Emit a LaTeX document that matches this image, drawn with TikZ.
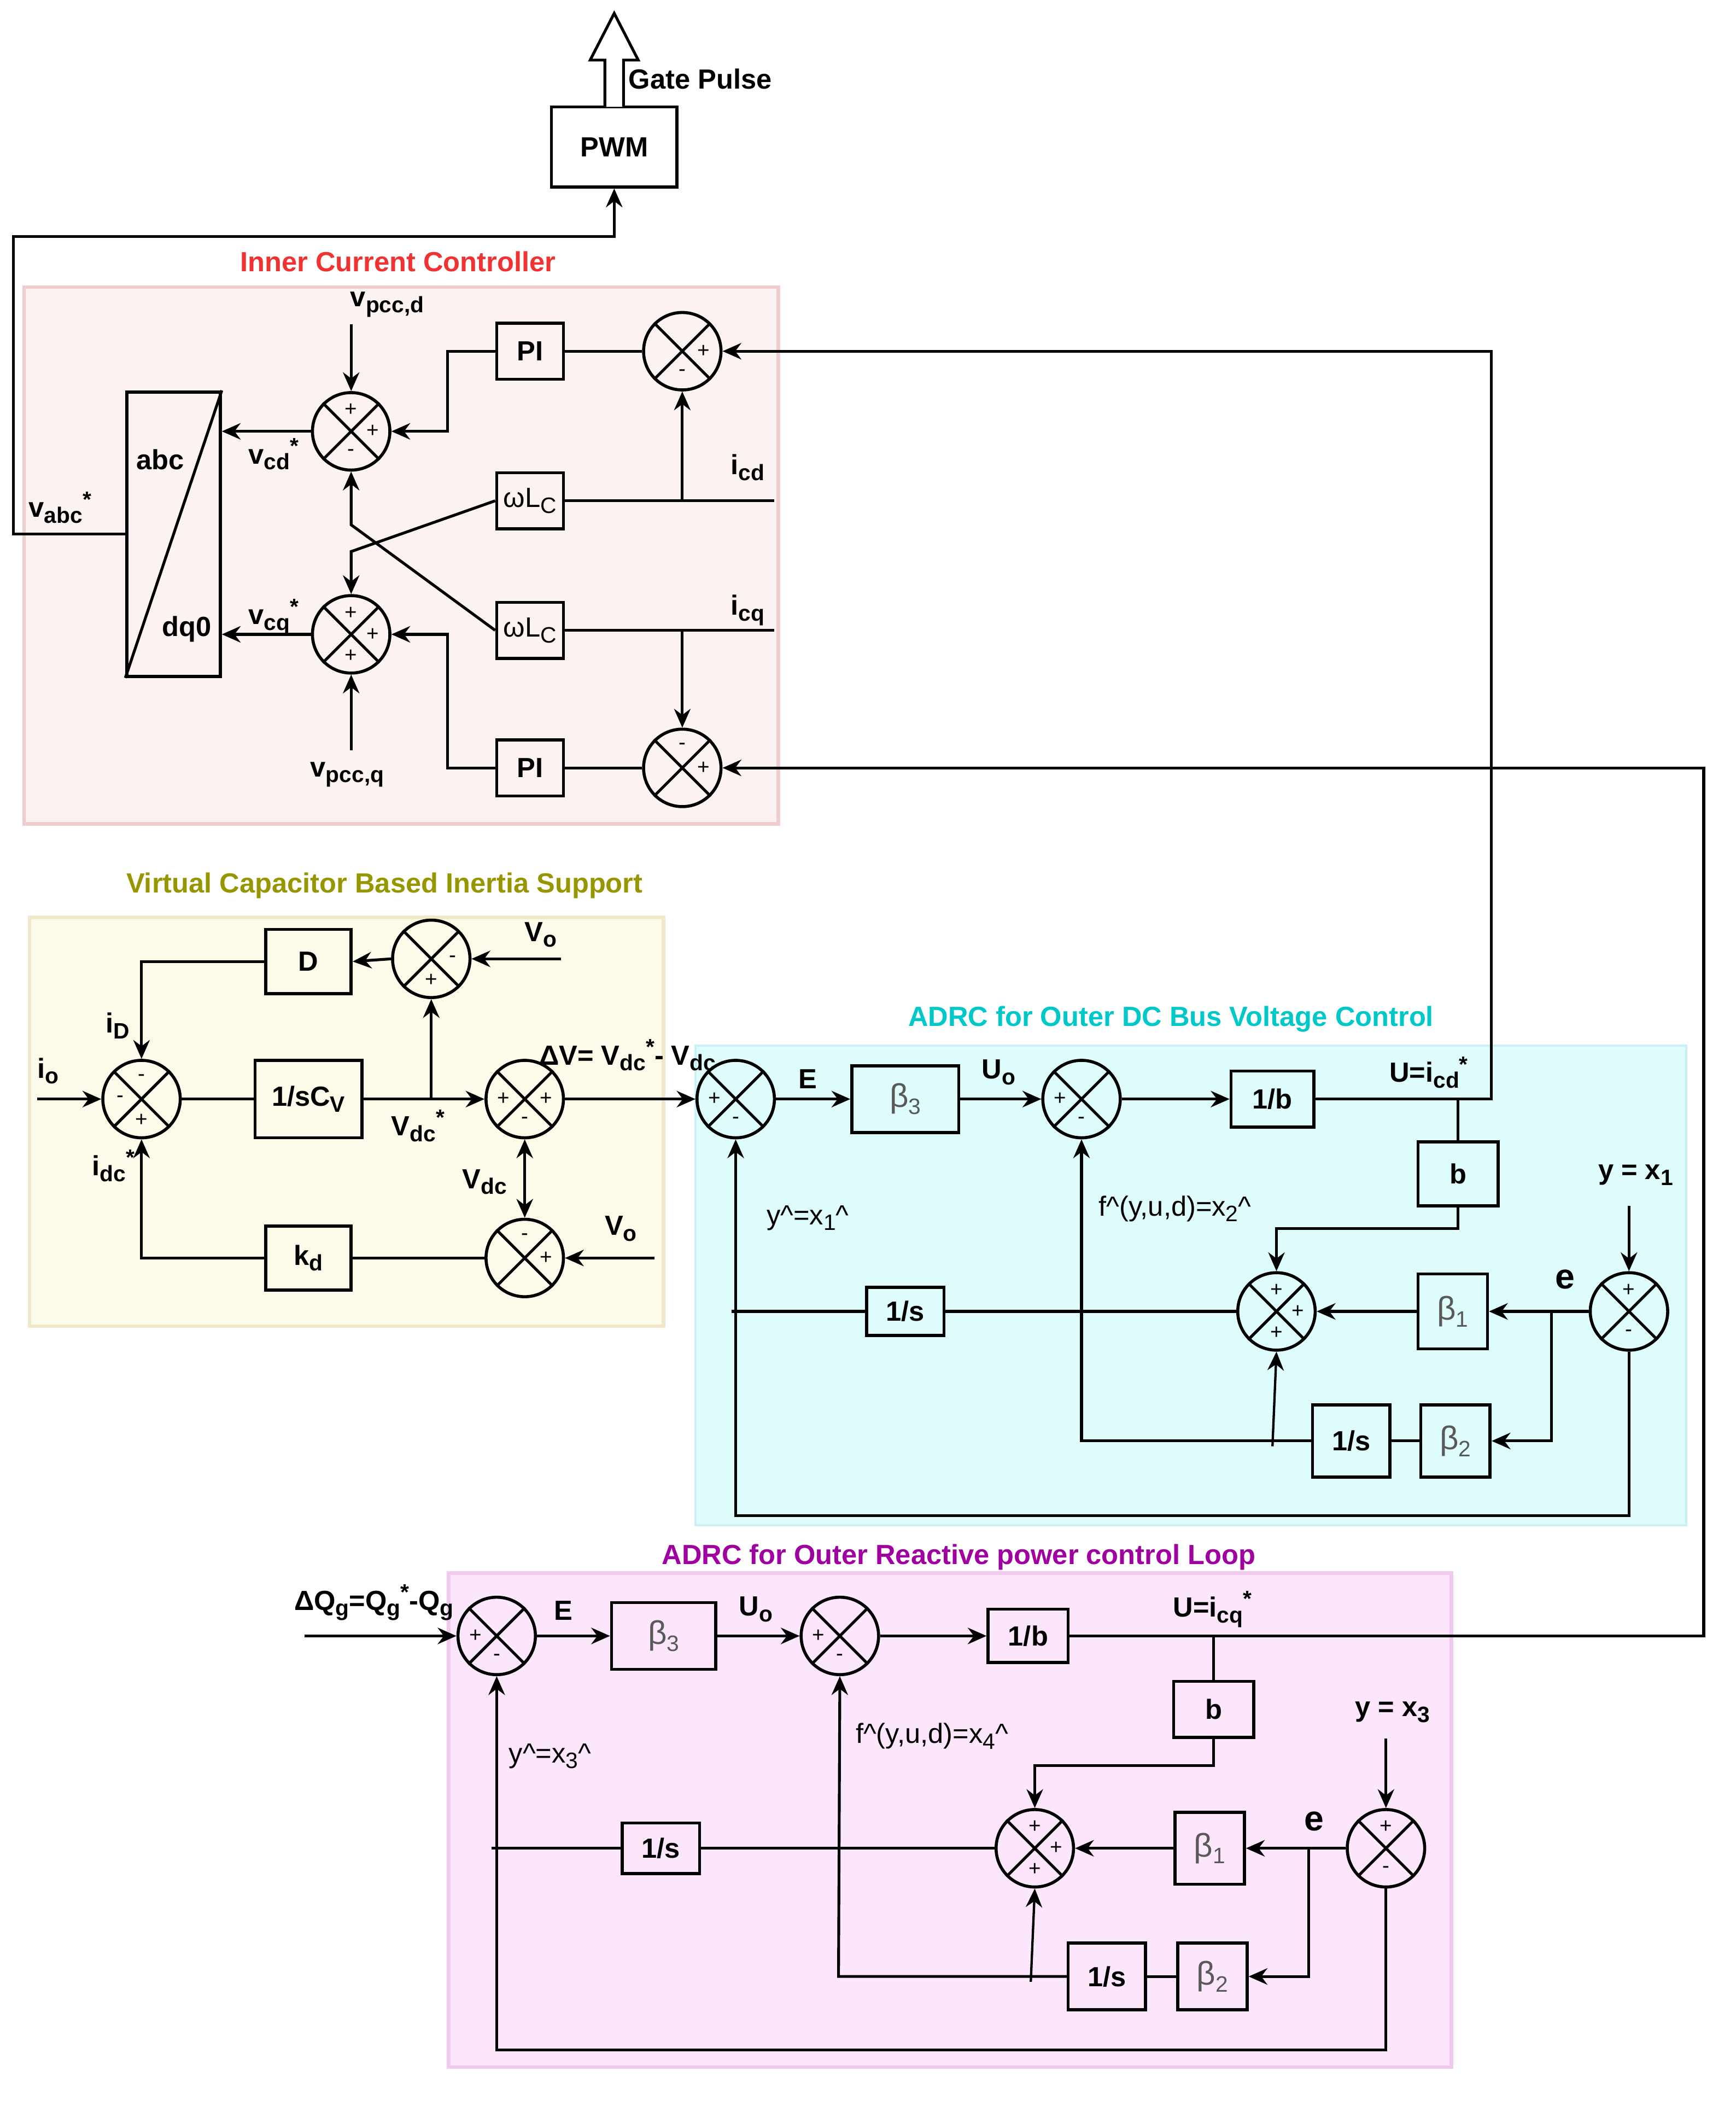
\documentclass[tikz,border=0pt]{standalone}
\usepackage{fontspec}
\setmainfont{Liberation Sans}
\usetikzlibrary{arrows.meta}

\definecolor{icbg}{RGB}{253,242,242}
\definecolor{icline}{RGB}{240,205,205}
\definecolor{vcbg}{RGB}{252,250,232}
\definecolor{vcline}{RGB}{240,232,200}
\definecolor{dcbg}{RGB}{222,252,252}
\definecolor{dcline}{RGB}{200,240,245}
\definecolor{qbg}{RGB}{252,230,252}
\definecolor{qline}{RGB}{240,200,240}
\definecolor{redtitle}{RGB}{240,50,50}
\definecolor{olivetitle}{RGB}{150,150,0}
\definecolor{cyantitle}{RGB}{0,200,200}
\definecolor{magtitle}{RGB}{160,0,160}

\newcommand{\figfont}{\fontsize{11.8}{13}\selectfont}
\newcommand{\lo}[1]{\raisebox{-0.4ex}{\fontsize{9.5}{10}\selectfont #1}}
\newcommand{\hi}[1]{\raisebox{0.7ex}{\fontsize{9.5}{10}\selectfont #1}}
% summing junction: name, position, list of angle/sign
\newcommand{\summer}[3]{%
    \node[sumnode] (#1) at (#2) {};
    \draw (#1.north east) -- (#1.south west) (#1.north west) -- (#1.south east);
    \foreach \a/\s in {#3} {\node[sgn] at ([shift={(\a:16)}]#1.center) {\s};}
}

\tikzset{
    blk/.style={draw, line width=1.3pt, fill=none, inner sep=0pt, font=\figfont\bfseries},
    gblk/.style={blk, text=black!65, font=\fontsize{14}{15}\selectfont},
    sumnode/.style={draw, circle, line width=1.3pt, minimum size=1.16cm, inner sep=0pt},
    sgn/.style={font=\small, inner sep=0pt},
    lbl/.style={font=\figfont\bfseries, inner sep=1pt},
    arr/.style={-{Stealth[length=8pt,width=7pt]}},
    darr/.style={{Stealth[length=8pt,width=7pt]}-{Stealth[length=8pt,width=7pt]}},
}

\begin{document}
\begin{tikzpicture}[x=0.02cm, y=-0.02cm, line width=1.2pt, font=\figfont]
    \useasboundingbox (0,0) rectangle (1300,1577);
    %
    % backgrounds
    \draw[icline, fill=icbg, line width=1.5pt] (18,215) rectangle (583,617);
    \draw[vcline, fill=vcbg, line width=1.5pt] (22,687) rectangle (497,993);
    \draw[dcline, fill=dcbg, line width=1pt] (521,783) rectangle (1263,1142);
    \draw[qline, fill=qbg, line width=1.5pt] (336,1178) rectangle (1087,1548);
    \node[lbl, text=redtitle] (tIC) at (298,196) {Inner Current Controller};
    \node[lbl, text=olivetitle] (tVC) at (288,663) {Virtual Capacitor Based Inertia Support};
    \node[lbl, text=cyantitle] (tDC) at (877,763) {ADRC for Outer DC Bus Voltage Control};
    \node[lbl, text=magtitle] (tQ) at (718,1166) {ADRC for Outer Reactive power control Loop};
    %
    % PWM
    \node[blk, minimum width=1.88cm, minimum height=1.2cm] (pwm) at (460,110) {PWM};
    \draw[fill=white] (453,80) -- (453,45) -- (442,45) -- (460,10) -- (478,45) -- (467,45) -- (467,80);
    \node[lbl, anchor=west] (gate) at (468,59) {Gate Pulse};
    %
    % inner current controller
    \node[draw, line width=1.3pt, minimum width=1.4cm, minimum height=4.26cm] (tr) at (130,400) {};
    \draw (tr.south west) -- (tr.north east);
    \node[lbl] (abc) at (120,344) {abc};
    \node[lbl] (dq) at (140,471) {dq0};
    \draw[arr] (tr.west) -- (10,400) -- (10,177) -| (pwm.south);
    \node[lbl] (vabc) at (45,380) {v\lo{abc}\hi{*}};
    \summer{sd}{263,323}{-90/+,0/+,90/-}
    \summer{sq}{263,475}{-90/+,0/+,90/+}
    \summer{ed}{511,263}{0/+,90/-}
    \summer{eq}{511,575}{-90/-,0/+}
    \node[blk, minimum width=1cm, minimum height=0.84cm] (pi1) at (397,263) {PI};
    \node[blk, minimum width=1cm, minimum height=0.84cm] (pi2) at (397,575) {PI};
    \node[blk, font=\figfont, minimum width=1cm, minimum height=0.84cm] (wl1) at (397,375) {ωL\lo{C}};
    \node[blk, font=\figfont, minimum width=1cm, minimum height=0.84cm] (wl2) at (397,472) {ωL\lo{C}};
    \draw[arr] (263,243) -- (sd.north);
    \node[lbl] (vpd) at (290,228) {v\lo{pcc,d}};
    \draw[arr] (263,562) -- (sq.south);
    \node[lbl] (vpq) at (260,580) {v\lo{pcc,q}};
    \draw[arr] (sd.west) -- (tr.east |- sd.west);
    \draw[arr] (sq.west) -- (tr.east |- sq.west);
    \node[lbl] (vcd) at (205,340) {v\lo{cd}\hi{*}};
    \node[lbl] (vcq) at (205,462) {v\lo{cq}\hi{*}};
    \draw[arr] (pi1.west) -- (335,263) |- (sd.east);
    \draw[arr] (pi2.west) -- (335,575) |- (sq.east);
    \draw (ed.west) -- (pi1.east);
    \draw (eq.west) -- (pi2.east);
    \draw (wl1.east) -- (580,375);
    \draw (wl2.east) -- (580,472);
    \draw[arr] (511,375) -- (ed.south);
    \draw[arr] (511,472) -- (eq.north);
    \node[lbl] (icd) at (560,350) {i\lo{cd}};
    \node[lbl] (icq) at (560,457) {i\lo{cq}};
    \draw[arr] (wl1.west) -- (263,413) -- (sq.north);
    \draw[arr] (wl2.west) -- (263,393) -- (sd.south);
    %
    % virtual capacitor
    \summer{s1}{106,823}{-90/-,180/-,90/+}
    \summer{s2}{323,718}{0/-,90/+}
    \summer{s3}{393,823}{180/+,0/+,90/-}
    \summer{s4}{393,942}{-90/-,0/+}
    \node[blk, minimum width=1.28cm, minimum height=0.96cm] (dd) at (231,720) {D};
    \node[blk, minimum width=1.6cm, minimum height=1.16cm] (csv) at (231,823) {1/sC\lo{V}};
    \node[blk, minimum width=1.28cm, minimum height=0.96cm] (kd) at (231,942) {k\lo{d}};
    \draw[arr] (28,823) -- (s1.west);
    \node[lbl] (io) at (36,802) {i\lo{o}};
    \draw[arr] (dd.west) -- (106,720) -- (s1.north);
    \node[lbl] (iD) at (88,768) {i\lo{D}};
    \draw[arr] (420,718) -- (s2.east);
    \node[lbl] (vo1) at (405,700) {V\lo{o}};
    \draw[arr] (s2.west) -- (dd.east);
    \draw (s1.east) -- (csv.west);
    \draw[arr] (csv.east) -- (s3.west);
    \draw[arr] (323,823) -- (s2.south);
    \node[lbl] (vdcs) at (313,843) {V\lo{dc}\hi{*}};
    \draw[darr] (s3.south) -- (s4.north);
    \node[lbl] (vdc) at (363,885) {V\lo{dc}};
    \draw[arr] (490,942) -- (s4.east);
    \node[lbl] (vo2) at (465,920) {V\lo{o}};
    \draw (s4.west) -- (kd.east);
    \draw[arr] (kd.west) -- (106,942) -- (s1.south);
    \node[lbl] (idc) at (85,873) {i\lo{dc}\hi{*}};
    \node[lbl] (dv) at (470,790) {ΔV= V\lo{dc}\hi{*}- V\lo{dc}};
    %
    % ADRC dc bus voltage
    \summer{a1}{551,823}{180/+,90/-}
    \summer{a2}{810,823}{180/+,90/-}
    \summer{a3}{956,982}{-90/+,0/+,90/+}
    \summer{a4}{1220,982}{-90/+,90/-}
    \node[gblk, minimum width=1.6cm, minimum height=1cm] (ab3) at (678,823) {β\lo{3}};
    \node[blk, minimum width=1.24cm, minimum height=0.84cm] (ainv) at (953,823) {1/b};
    \node[blk, minimum width=1.2cm, minimum height=0.96cm] (ab) at (1092,879) {b};
    \node[gblk, minimum width=1.04cm, minimum height=1.12cm] (ab1) at (1088,982) {β\lo{1}};
    \node[gblk, minimum width=1.04cm, minimum height=1.08cm] (ab2) at (1090,1079) {β\lo{2}};
    \node[blk, minimum width=1.16cm, minimum height=1.08cm] (ai2) at (1012,1079) {1/s};
    \node[blk, minimum width=1.16cm, minimum height=0.72cm] (ai1) at (678,982) {1/s};
    \draw[arr] (s3.east) -- (a1.west);
    \draw[arr] (a1.east) -- (ab3.west);
    \node[lbl] (aE) at (605,808) {E};
    \draw[arr] (ab3.east) -- (a2.west);
    \node[lbl] (aUo) at (748,803) {U\lo{o}};
    \draw[arr] (a2.east) -- (ainv.west);
    \draw[arr] (ainv.east) -- (1117,823) -- (1117,263) -- (ed.east);
    \node[lbl] (aU) at (1070,803) {U=i\lo{cd}\hi{*}};
    \draw (1092,823) -- (ab.north);
    \draw[arr] (ab.south) -- (1092,920) -| (a3.north);
    \draw[arr] (1220,903) -- (a4.north);
    \node[lbl] (ay) at (1225,880) {y = x\lo{1}};
    \draw[arr] (a4.west) -- (ab1.east);
    \node[lbl, font=\fontsize{15}{16}\selectfont\bfseries] (ae) at (1172,958) {e};
    \draw[arr] (1162,982) |- (ab2.east);
    \draw (ab2.west) -- (ai2.east);
    \draw[arr] (ai2.west) -- (810,1079) -- (a2.south);
    \draw[arr, line width=1pt] (953,1083) -- (a3.south);
    \node[lbl, font=\figfont] (af) at (880,905) {f\^{}(y,u,d)=x\lo{2}\^{}};
    \draw[arr] (ab1.west) -- (a3.east);
    \draw (a3.west) -- (ai1.east);
    \draw (ai1.west) -- (548,982);
    \draw[arr] (a4.south) -- (1220,1135) -- (551,1135) -- (a1.south);
    \node[lbl, font=\figfont] (ayh) at (605,912) {y\^{}=x\lo{1}\^{}};
    %
    % ADRC reactive power
    \summer{b1}{372,1225}{180/+,90/-}
    \summer{b2}{629,1225}{180/+,90/-}
    \summer{b3}{775,1384}{-90/+,0/+,90/+}
    \summer{b4}{1038,1384}{-90/+,90/-}
    \node[gblk, minimum width=1.56cm, minimum height=1cm] (bb3) at (497,1225) {β\lo{3}};
    \node[blk, minimum width=1.2cm, minimum height=0.8cm] (binv) at (770,1225) {1/b};
    \node[blk, minimum width=1.2cm, minimum height=0.84cm] (bb) at (909,1280) {b};
    \node[gblk, minimum width=1.04cm, minimum height=1.08cm] (bb1) at (906,1384) {β\lo{1}};
    \node[gblk, minimum width=1.04cm, minimum height=1cm] (bb2) at (908,1480) {β\lo{2}};
    \node[blk, minimum width=1.16cm, minimum height=1cm] (bi2) at (829,1480) {1/s};
    \node[blk, minimum width=1.16cm, minimum height=0.76cm] (bi1) at (495,1384) {1/s};
    \draw[arr] (228,1225) -- (b1.west);
    \node[lbl] (bdq) at (280,1200) {ΔQ\lo{g}=Q\lo{g}\hi{*}-Q\lo{g}};
    \draw[arr] (b1.east) -- (bb3.west);
    \node[lbl] (bE) at (422,1206) {E};
    \draw[arr] (bb3.east) -- (b2.west);
    \node[lbl] (bUo) at (566,1205) {U\lo{o}};
    \draw[arr] (b2.east) -- (binv.west);
    \draw[arr] (binv.east) -- (1276,1225) -- (1276,575) -- (eq.east);
    \node[lbl] (bU) at (908,1205) {U=i\lo{cq}\hi{*}};
    \draw (909,1225) -- (bb.north);
    \draw[arr] (bb.south) -- (909,1322) -| (b3.north);
    \draw[arr] (1038,1302) -- (b4.north);
    \node[lbl] (by) at (1043,1282) {y = x\lo{3}};
    \draw[arr] (b4.west) -- (bb1.east);
    \node[lbl, font=\fontsize{15}{16}\selectfont\bfseries] (be) at (984,1364) {e};
    \draw[arr] (980,1384) |- (bb2.east);
    \draw (bb2.west) -- (bi2.east);
    \draw[arr] (bi2.west) -- (628,1480) -- (b2.south);
    \draw[arr, line width=1pt] (772,1484) -- (b3.south);
    \node[lbl, font=\figfont] (bf) at (698,1300) {f\^{}(y,u,d)=x\lo{4}\^{}};
    \draw[arr] (bb1.west) -- (b3.east);
    \draw (b3.west) -- (bi1.east);
    \draw (bi1.west) -- (368,1384);
    \draw[arr] (b4.south) -- (1038,1535) -- (372,1535) -- (b1.south);
    \node[lbl, font=\figfont] (byh) at (412,1315) {y\^{}=x\lo{3}\^{}};
\end{tikzpicture}
\end{document}
